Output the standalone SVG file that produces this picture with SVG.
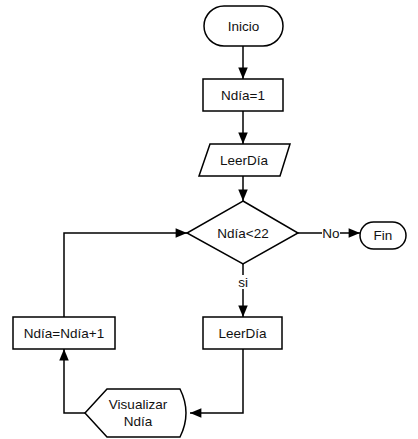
<svg xmlns="http://www.w3.org/2000/svg" width="418" height="439" viewBox="0 0 418 439">
<style>
.s{fill:#fff;stroke:#000;stroke-width:1.5}
.t{font-family:"Liberation Sans",Arial,sans-serif;font-size:13.5px;fill:#111;text-anchor:middle;dominant-baseline:central}
.c{fill:none;stroke:#000;stroke-width:1.5}
</style>
<defs>
<marker id="a" viewBox="0 0 12 10" refX="12" refY="5" markerWidth="12" markerHeight="9.5" markerUnits="userSpaceOnUse" orient="auto"><path d="M0,0 L12,5 L0,10 z" fill="#000"/></marker>
</defs>
<g id="connectors">
<path class="c" d="M243,46 V79" marker-end="url(#a)"/>
<path class="c" d="M243,111 V144" marker-end="url(#a)"/>
<path class="c" d="M243,176 V201" marker-end="url(#a)"/>
<path class="c" d="M298,233 H322"/>
<path class="c" d="M340,233 H360" marker-end="url(#a)"/>
<path class="c" d="M243,264 V275"/>
<path class="c" d="M243,289 V317" marker-end="url(#a)"/>
<path class="c" d="M243,349 V413 H190" marker-end="url(#a)"/>
<path class="c" d="M85,413 H64 V349" marker-end="url(#a)"/>
<path class="c" d="M64,317 V233 H187" marker-end="url(#a)"/>
<text class="t" x="331" y="233">No</text>
<text class="t" x="243" y="282">si</text>
</g>
<g id="inicio"><rect class="s" x="204" y="6" width="79" height="40" rx="20"/><text class="t" x="243.5" y="26">Inicio</text></g>
<g id="ndia1"><rect class="s" x="203" y="79" width="80" height="32"/><text class="t" x="243" y="95">Ndía=1</text></g>
<g id="leer1"><path class="s" d="M210,144 H290 L280,176 H199 Z"/><text class="t" x="244" y="160">LeerDía</text></g>
<g id="decision"><path class="s" d="M243,201 L298,233 L243,264 L187,233 Z"/><text class="t" x="243" y="233">Ndía&lt;22</text></g>
<g id="fin"><rect class="s" x="360" y="222" width="46" height="27" rx="13.5"/><text class="t" x="383" y="235.5">Fin</text></g>
<g id="leer2"><rect class="s" x="203" y="317" width="79" height="32"/><text class="t" x="242.5" y="333">LeerDía</text></g>
<g id="incr"><rect class="s" x="13" y="317" width="102" height="32"/><text class="t" x="64" y="333">Ndía=Ndía+1</text></g>
<g id="visualizar"><path class="s" d="M85,413 L107,389 H180 Q192,413 180,437 H107 Z"/><text class="t" x="138" y="404">Visualizar</text><text class="t" x="138" y="421">Ndía</text></g>
</svg>
